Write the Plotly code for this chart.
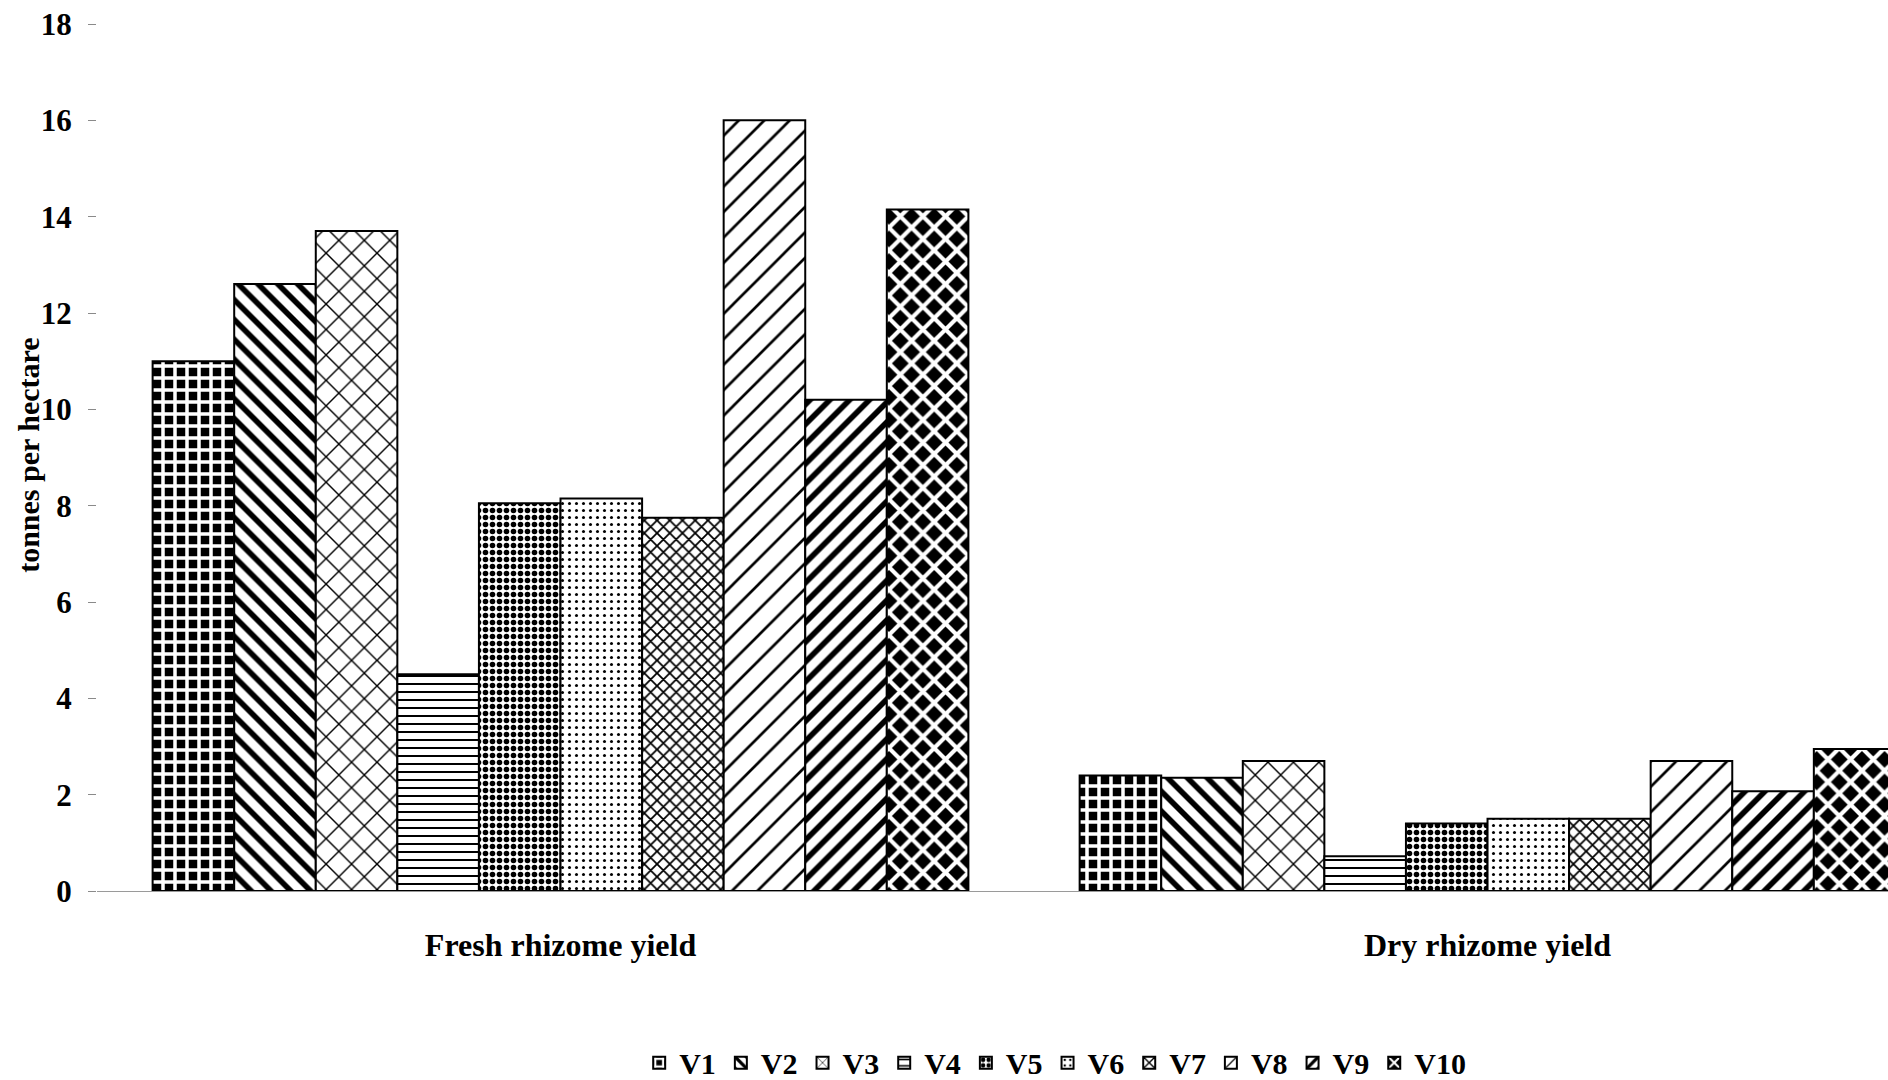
import plotly.graph_objects as go

# Rhizome yield (tonnes per hectare) for ten varieties
categories = ["Fresh rhizome yield", "Dry rhizome yield"]
varieties = ["V1", "V2", "V3", "V4", "V5", "V6", "V7", "V8", "V9", "V10"]
fresh_yield = [11.0, 12.6, 13.7, 4.5, 8.05, 8.15, 7.75, 16.0, 10.2, 14.15]
dry_yield = [2.4, 2.35, 2.7, 0.72, 1.4, 1.5, 1.5, 2.7, 2.07, 2.95]
y_ticks = [0, 2, 4, 6, 8, 10, 12, 14, 16, 18]

# Monochrome fill textures, one per variety
patterns = [
    dict(shape="+", fgcolor="white", bgcolor="black", size=12, solidity=0.5),
    dict(shape="\\", fgcolor="black", bgcolor="white", size=14, solidity=0.4),
    dict(shape="x", fgcolor="black", bgcolor="white", size=18, solidity=0.15),
    dict(shape="-", fgcolor="black", bgcolor="white", size=8, solidity=0.25),
    dict(shape=".", fgcolor="black", bgcolor="white", size=7, solidity=0.5),
    dict(shape=".", fgcolor="black", bgcolor="white", size=7, solidity=0.15),
    dict(shape="x", fgcolor="black", bgcolor="white", size=9, solidity=0.35),
    dict(shape="/", fgcolor="black", bgcolor="white", size=18, solidity=0.15),
    dict(shape="/", fgcolor="black", bgcolor="white", size=14, solidity=0.4),
    dict(shape="x", fgcolor="white", bgcolor="black", size=16, solidity=0.45),
]

serif = "Liberation Serif"

fig = go.Figure()
for i, name in enumerate(varieties):
    fig.add_trace(go.Bar(
        x=categories,
        y=[fresh_yield[i], dry_yield[i]],
        name=name,
        marker=dict(
            color="white",
            line=dict(color="black", width=2),
            pattern=dict(fillmode="replace", **patterns[i]),
        ),
    ))

# Vertical axis title placed close to the tick labels
fig.add_annotation(
    text="tonnes per hectare",
    textangle=-90,
    xref="paper", yref="paper",
    x=-0.038, y=0.503,
    xanchor="center", yanchor="middle",
    showarrow=False,
    font=dict(family=serif, size=30, weight="bold", color="black"),
)

fig.update_layout(
    width=1888,
    height=1080,
    paper_bgcolor="white",
    plot_bgcolor="white",
    margin=dict(l=97, r=0, t=24, b=189, autoexpand=False),
    barmode="group",
    bargap=0.12,
    bargroupgap=0,
    font=dict(family=serif, color="black"),
    legend=dict(
        orientation="h",
        x=0.535,
        xanchor="center",
        y=-0.198,
        yanchor="middle",
        font=dict(family=serif, size=30, weight="bold"),
        itemwidth=30,
        tracegroupgap=0,
    ),
    xaxis=dict(
        range=[-0.5, 1.432],
        showline=True,
        linecolor="#9a9a9a",
        linewidth=1,
        ticks="",
        showgrid=False,
        tickfont=dict(family=serif, size=32, weight="bold"),
        ticklabelstandoff=26,
    ),
    yaxis=dict(
        range=[0, 18],
        tickvals=y_ticks,
        showline=False,
        showgrid=False,
        zeroline=False,
        ticks="outside",
        ticklen=8,
        tickcolor="#8a8a8a",
        tickwidth=1,
        ticklabelstandoff=10,
        tickfont=dict(family=serif, size=31, weight="bold"),
    ),
)

fig.write_html("out.html")
